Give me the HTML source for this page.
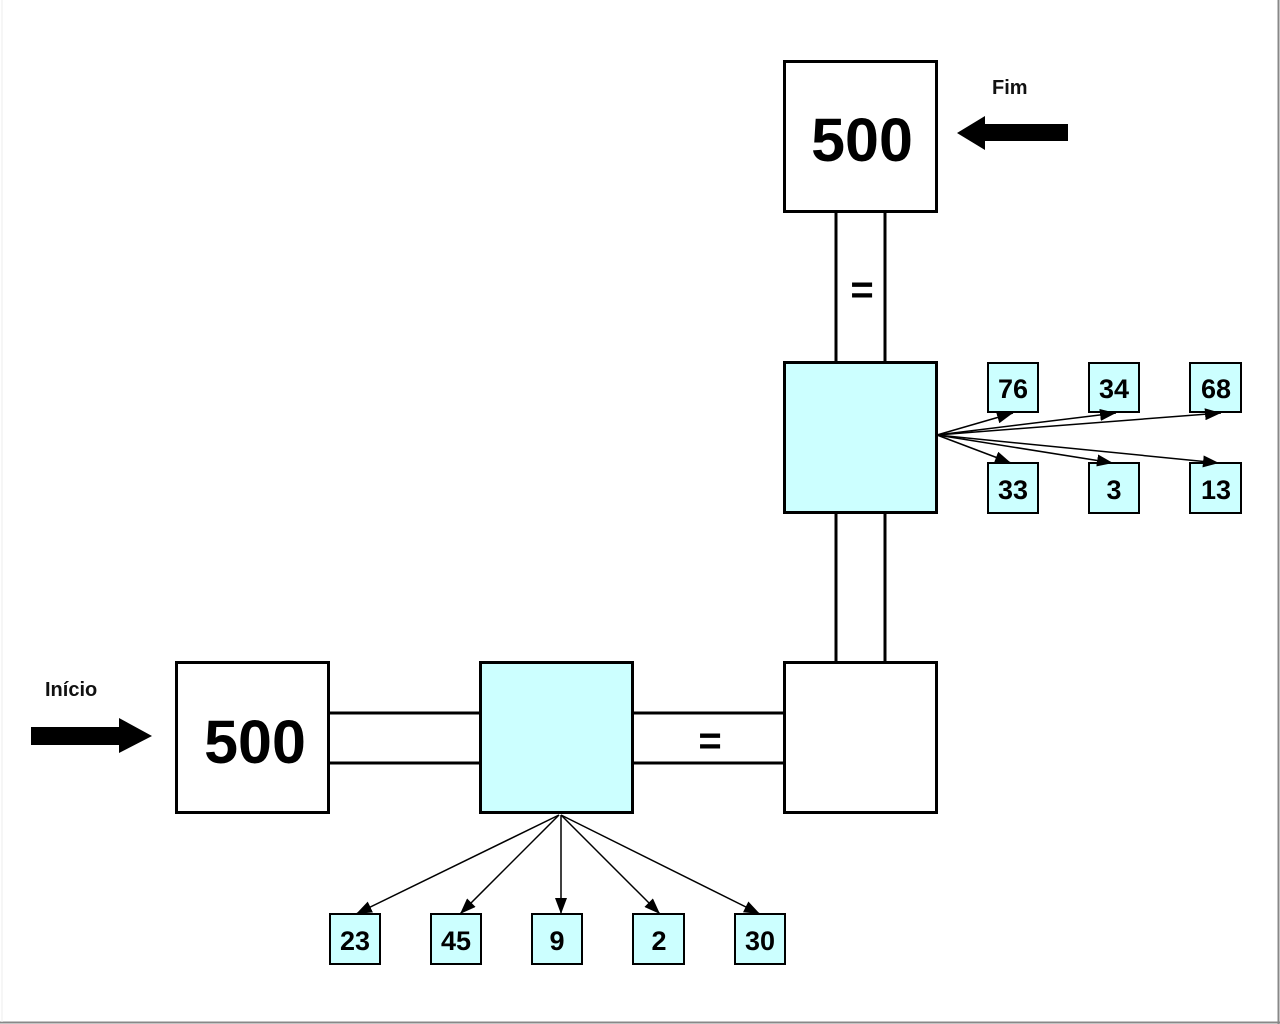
<!DOCTYPE html>
<html><head><meta charset="utf-8"><style>
html,body{margin:0;padding:0;background:#fff;width:1280px;height:1024px;overflow:hidden}
svg{display:block}
.big{font-family:"Liberation Sans",sans-serif;font-weight:bold;font-size:61px;fill:#000}
.sm{font-family:"Liberation Sans Narrow","Liberation Sans",sans-serif;font-weight:bold;font-size:27px;fill:#000}
.lb{font-family:"Liberation Sans",sans-serif;font-weight:bold;font-size:20px;fill:#111}
</style></head><body>
<svg width="1280" height="1024" viewBox="0 0 1280 1024" xmlns="http://www.w3.org/2000/svg">
<defs>
<marker id="ah" markerWidth="10" markerHeight="10" refX="9" refY="5" orient="auto" markerUnits="userSpaceOnUse" viewBox="0 0 10 10">
<path d="M0,0 L10,5 L0,10 z" fill="#000" transform="scale(1)"/>
</marker>
<marker id="ah2" markerWidth="16" markerHeight="12" refX="16" refY="6" orient="auto" markerUnits="userSpaceOnUse">
<path d="M0,0 L16,6 L0,12 z" fill="#000"/>
</marker>
</defs>
<rect x="0" y="0" width="1280" height="1024" fill="#fff"/>
<line x1="1278.5" y1="0" x2="1278.5" y2="1024" stroke="#888" stroke-width="2"/>
<line x1="0" y1="1022.5" x2="1280" y2="1022.5" stroke="#888" stroke-width="2"/>
<line x1="2" y1="0" x2="2" y2="1022" stroke="#eee" stroke-width="1"/>

<g stroke="#000" stroke-width="3" fill="none">
<!-- vertical connector bars -->
<line x1="836" y1="211" x2="836" y2="362"/>
<line x1="885" y1="211" x2="885" y2="362"/>
<line x1="836" y1="512" x2="836" y2="662"/>
<line x1="885" y1="512" x2="885" y2="662"/>
<!-- horizontal -->
<line x1="328" y1="713" x2="480" y2="713"/>
<line x1="328" y1="763" x2="480" y2="763"/>
<line x1="632" y1="713" x2="784" y2="713"/>
<line x1="632" y1="763" x2="784" y2="763"/>
<rect x="784.5" y="61.5" width="152" height="150" fill="#fff"/>
<rect x="784.5" y="362.5" width="152" height="150" fill="#ccffff"/>
<rect x="784.5" y="662.5" width="152" height="150" fill="#fff"/>
<rect x="176.5" y="662.5" width="152" height="150" fill="#fff"/>
<rect x="480.5" y="662.5" width="152" height="150" fill="#ccffff"/>
</g>
<text class="big" x="862" y="161" text-anchor="middle">500</text>
<text class="big" x="255" y="763" text-anchor="middle">500</text>
<text class="big" x="862" y="303" text-anchor="middle" style="font-size:40px">=</text>
<text class="big" x="710" y="754" text-anchor="middle" style="font-size:40px">=</text>

<text class="lb" x="992" y="94">Fim</text>
<text class="lb" x="45" y="696">Início</text>
<!-- Fim arrow -->
<path d="M1068,124 L985,124 L985,116 L957,133 L985,150 L985,141 L1068,141 z" fill="#000"/>
<!-- Inicio arrow -->
<path d="M31,727 L119,727 L119,718 L152,736 L119,753 L119,745 L31,745 z" fill="#000"/>

<!-- small boxes -->
<g stroke="#000" stroke-width="2" fill="#ccffff">
<rect x="988" y="363" width="50" height="49"/>
<rect x="1089" y="363" width="50" height="49"/>
<rect x="1190" y="363" width="51" height="49"/>
<rect x="988" y="463" width="50" height="50"/>
<rect x="1089" y="463" width="50" height="50"/>
<rect x="1190" y="463" width="51" height="50"/>
<rect x="330" y="914" width="50" height="50"/>
<rect x="431" y="914" width="50" height="50"/>
<rect x="532" y="914" width="50" height="50"/>
<rect x="633" y="914" width="51" height="50"/>
<rect x="735" y="914" width="50" height="50"/>
</g>
<g class="sm" text-anchor="middle">
<text x="1013" y="398">76</text>
<text x="1114" y="398">34</text>
<text x="1216" y="398">68</text>
<text x="1013" y="499">33</text>
<text x="1114" y="499">3</text>
<text x="1216" y="499">13</text>
<text x="355" y="950">23</text>
<text x="456" y="950">45</text>
<text x="557" y="950">9</text>
<text x="659" y="950">2</text>
<text x="760" y="950">30</text>
</g>

<!-- arrows -->
<g stroke="#000" stroke-width="1.5" fill="none" marker-end="url(#ah2)">
<line x1="937" y1="435" x2="1013" y2="413"/>
<line x1="937" y1="435" x2="1116" y2="413"/>
<line x1="937" y1="435" x2="1221" y2="413"/>
<line x1="937" y1="435" x2="1011" y2="463"/>
<line x1="937" y1="435" x2="1113" y2="463"/>
<line x1="937" y1="435" x2="1219" y2="463"/>
<line x1="559" y1="815" x2="356" y2="914"/>
<line x1="559" y1="815" x2="460" y2="914"/>
<line x1="561" y1="815" x2="561" y2="914"/>
<line x1="561" y1="815" x2="660" y2="914"/>
<line x1="561" y1="815" x2="760" y2="914"/>
</g>
</svg>
</body></html>
